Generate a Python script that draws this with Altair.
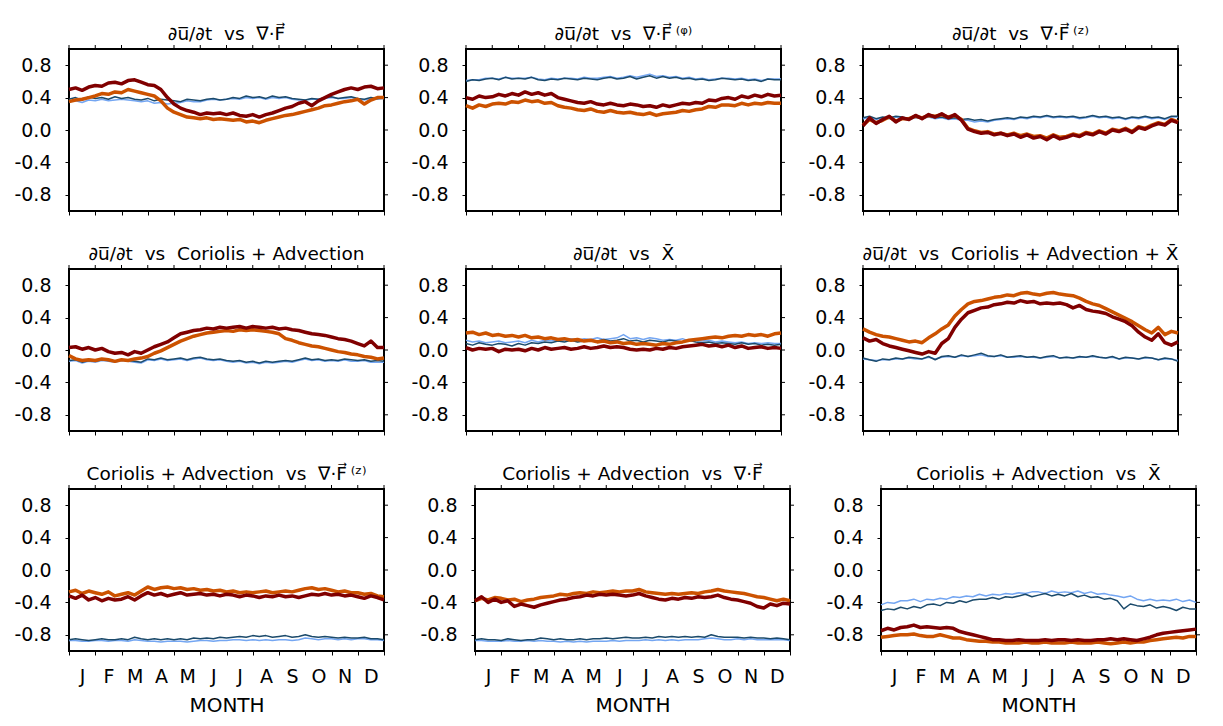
import altair as alt
import pandas as pd

FONT = "DejaVu Sans"
MONTH_LETTERS = ["J", "F", "M", "A", "M", "J", "J", "A", "S", "O", "N", "D"]
MONTH_EDGES = list(range(13))
Y_TICKS = [-0.8, -0.4, 0.0, 0.4, 0.8]
STEP = 0.25  # months between samples

TITLES = [
    "\u2202u\u0305/\u2202t\u00a0\u00a0vs\u00a0\u00a0\u2207\u00b7F\u20d7",
    "\u2202u\u0305/\u2202t\u00a0\u00a0vs\u00a0\u00a0\u2207\u00b7F\u20d7\u2009\u207d\u1d60\u207e",
    "\u2202u\u0305/\u2202t\u00a0\u00a0vs\u00a0\u00a0\u2207\u00b7F\u20d7\u2009\u207d\u1dbb\u207e",
    "\u2202u\u0305/\u2202t\u00a0\u00a0vs\u00a0\u00a0Coriolis + Advection",
    "\u2202u\u0305/\u2202t\u00a0\u00a0vs\u00a0\u00a0X\u0304",
    "\u2202u\u0305/\u2202t\u00a0\u00a0vs\u00a0\u00a0Coriolis + Advection + X\u0304",
    "Coriolis + Advection\u00a0\u00a0vs\u00a0\u00a0\u2207\u00b7F\u20d7\u2009\u207d\u1dbb\u207e",
    "Coriolis + Advection\u00a0\u00a0vs\u00a0\u00a0\u2207\u00b7F\u20d7",
    "Coriolis + Advection\u00a0\u00a0vs\u00a0\u00a0X\u0304",
]

# ---------------- panel 1 ----------------
p1_light = [0.35, 0.36, 0.34, 0.37, 0.36, 0.38, 0.36, 0.37, 0.38, 0.37, 0.36, 0.35,
            0.36, 0.33, 0.34, 0.32, 0.33, 0.34, 0.36, 0.35, 0.35, 0.37, 0.38, 0.37,
            0.38, 0.39, 0.38, 0.40, 0.39, 0.40, 0.38, 0.40, 0.39, 0.40, 0.38, 0.37,
            0.37, 0.38, 0.38, 0.39, 0.40, 0.39, 0.39, 0.40, 0.38, 0.37, 0.39, 0.38, 0.39]
p1_dark = [0.38, 0.40, 0.37, 0.41, 0.39, 0.40, 0.38, 0.41, 0.39, 0.40, 0.38, 0.37,
           0.39, 0.36, 0.38, 0.37, 0.36, 0.35, 0.38, 0.37, 0.36, 0.38, 0.39, 0.37,
           0.38, 0.40, 0.39, 0.42, 0.40, 0.41, 0.39, 0.42, 0.40, 0.41, 0.39, 0.38,
           0.37, 0.39, 0.38, 0.40, 0.41, 0.39, 0.40, 0.41, 0.39, 0.38, 0.40, 0.39, 0.40]
p1_orange = [0.35, 0.37, 0.38, 0.40, 0.42, 0.45, 0.44, 0.47, 0.46, 0.50, 0.48, 0.46,
             0.44, 0.42, 0.36, 0.27, 0.22, 0.19, 0.16, 0.15, 0.14, 0.15, 0.13, 0.14,
             0.13, 0.12, 0.13, 0.10, 0.11, 0.09, 0.12, 0.14, 0.16, 0.18, 0.19, 0.21,
             0.23, 0.25, 0.27, 0.30, 0.31, 0.33, 0.35, 0.36, 0.38, 0.32, 0.37, 0.40, 0.40]
p1_red = [0.50, 0.52, 0.49, 0.53, 0.55, 0.54, 0.58, 0.59, 0.57, 0.61, 0.62, 0.59,
          0.56, 0.55, 0.50, 0.40, 0.32, 0.27, 0.24, 0.22, 0.19, 0.21, 0.20, 0.21,
          0.19, 0.21, 0.18, 0.17, 0.19, 0.16, 0.19, 0.21, 0.24, 0.27, 0.29, 0.33,
          0.35, 0.30, 0.36, 0.40, 0.44, 0.47, 0.50, 0.52, 0.50, 0.53, 0.54, 0.51, 0.52]

# ---------------- panel 2 ----------------
p2_light = [0.61, 0.62, 0.62, 0.64, 0.64, 0.63, 0.65, 0.64, 0.64, 0.64, 0.65, 0.63,
            0.62, 0.64, 0.63, 0.64, 0.64, 0.63, 0.65, 0.64, 0.64, 0.65, 0.66, 0.64,
            0.65, 0.67, 0.65, 0.67, 0.69, 0.66, 0.67, 0.65, 0.66, 0.64, 0.65, 0.63,
            0.64, 0.62, 0.63, 0.64, 0.64, 0.63, 0.64, 0.62, 0.63, 0.61, 0.63, 0.63, 0.63]
p2_dark = [0.60, 0.62, 0.61, 0.63, 0.64, 0.62, 0.65, 0.63, 0.64, 0.63, 0.65, 0.62,
           0.61, 0.63, 0.62, 0.64, 0.63, 0.62, 0.64, 0.63, 0.62, 0.64, 0.65, 0.63,
           0.64, 0.66, 0.63, 0.65, 0.67, 0.64, 0.66, 0.64, 0.65, 0.63, 0.64, 0.62,
           0.63, 0.61, 0.62, 0.64, 0.63, 0.62, 0.63, 0.61, 0.62, 0.60, 0.63, 0.62, 0.62]
p2_orange = [0.30, 0.27, 0.31, 0.29, 0.32, 0.33, 0.32, 0.35, 0.34, 0.37, 0.35, 0.36,
             0.33, 0.34, 0.30, 0.28, 0.27, 0.25, 0.24, 0.26, 0.23, 0.22, 0.24, 0.22,
             0.21, 0.22, 0.20, 0.19, 0.21, 0.18, 0.20, 0.21, 0.22, 0.24, 0.23, 0.25,
             0.26, 0.29, 0.28, 0.31, 0.31, 0.30, 0.33, 0.31, 0.33, 0.32, 0.34, 0.33, 0.33]
p2_red = [0.40, 0.38, 0.42, 0.40, 0.41, 0.44, 0.42, 0.45, 0.43, 0.47, 0.44, 0.46,
          0.43, 0.45, 0.40, 0.38, 0.36, 0.34, 0.33, 0.35, 0.32, 0.31, 0.33, 0.31,
          0.30, 0.32, 0.31, 0.29, 0.30, 0.28, 0.31, 0.29, 0.31, 0.33, 0.32, 0.34,
          0.33, 0.37, 0.36, 0.39, 0.40, 0.38, 0.42, 0.40, 0.43, 0.41, 0.44, 0.42, 0.43]

# ---------------- panel 3 ----------------
p3_light = [0.14, 0.15, 0.13, 0.15, 0.14, 0.16, 0.15, 0.13, 0.15, 0.14, 0.16, 0.14,
            0.15, 0.13, 0.14, 0.12, 0.12, 0.10, 0.11, 0.10, 0.12, 0.13, 0.14, 0.13,
            0.15, 0.14, 0.16, 0.15, 0.17, 0.15, 0.16, 0.15, 0.16, 0.14, 0.15, 0.17,
            0.15, 0.16, 0.14, 0.15, 0.13, 0.15, 0.14, 0.16, 0.14, 0.15, 0.13, 0.16, 0.16]
p3_dark = [0.15, 0.17, 0.14, 0.16, 0.15, 0.17, 0.16, 0.14, 0.16, 0.15, 0.17, 0.15,
           0.16, 0.14, 0.15, 0.13, 0.14, 0.12, 0.13, 0.11, 0.13, 0.14, 0.15, 0.14,
           0.16, 0.15, 0.17, 0.16, 0.18, 0.16, 0.17, 0.16, 0.17, 0.15, 0.16, 0.18,
           0.16, 0.17, 0.15, 0.16, 0.14, 0.16, 0.15, 0.17, 0.15, 0.16, 0.14, 0.17, 0.17]
p3_orange = [0.06, 0.13, 0.09, 0.12, 0.16, 0.11, 0.14, 0.14, 0.17, 0.15, 0.18, 0.17,
             0.19, 0.16, 0.18, 0.13, 0.02, -0.01, -0.03, -0.02, -0.05, -0.04, -0.06, -0.04,
             -0.07, -0.05, -0.08, -0.07, -0.10, -0.06, -0.09, -0.08, -0.05, -0.07, -0.03, -0.05,
             -0.01, -0.04, 0.01, -0.01, 0.02, -0.02, 0.04, 0.02, 0.06, 0.09, 0.07, 0.13, 0.10]
p3_red = [0.05, 0.15, 0.08, 0.13, 0.17, 0.10, 0.15, 0.13, 0.18, 0.14, 0.19, 0.16,
          0.20, 0.15, 0.19, 0.12, 0.01, -0.02, -0.04, -0.03, -0.06, -0.04, -0.07, -0.05,
          -0.09, -0.06, -0.10, -0.08, -0.12, -0.07, -0.11, -0.09, -0.06, -0.08, -0.04, -0.06,
          -0.02, -0.05, 0.00, -0.02, 0.01, -0.03, 0.03, 0.01, 0.05, 0.08, 0.06, 0.12, 0.09]

# ---------------- panel 4 ----------------
p4_light = [-0.14, -0.13, -0.16, -0.14, -0.15, -0.13, -0.14, -0.15, -0.13, -0.14, -0.15, -0.16,
            -0.12, -0.13, -0.11, -0.13, -0.12, -0.11, -0.13, -0.11, -0.10, -0.12, -0.13, -0.12,
            -0.14, -0.15, -0.14, -0.16, -0.15, -0.17, -0.15, -0.16, -0.15, -0.14, -0.15, -0.13,
            -0.11, -0.13, -0.12, -0.14, -0.13, -0.14, -0.12, -0.14, -0.14, -0.13, -0.15, -0.15, -0.15]
p4_dark = [-0.13, -0.12, -0.15, -0.13, -0.14, -0.12, -0.13, -0.14, -0.12, -0.13, -0.14, -0.15,
           -0.11, -0.12, -0.10, -0.12, -0.11, -0.10, -0.12, -0.10, -0.09, -0.11, -0.12, -0.11,
           -0.13, -0.14, -0.13, -0.15, -0.14, -0.16, -0.14, -0.15, -0.14, -0.13, -0.14, -0.12,
           -0.10, -0.12, -0.11, -0.13, -0.12, -0.13, -0.11, -0.12, -0.13, -0.12, -0.14, -0.13, -0.14]
p4_orange = [-0.07, -0.11, -0.13, -0.12, -0.13, -0.11, -0.12, -0.14, -0.12, -0.13, -0.11, -0.10,
             -0.08, -0.04, -0.01, 0.03, 0.07, 0.11, 0.14, 0.17, 0.19, 0.21, 0.22, 0.23,
             0.24, 0.23, 0.25, 0.24, 0.25, 0.24, 0.23, 0.22, 0.20, 0.14, 0.12, 0.09,
             0.07, 0.05, 0.04, 0.02, 0.00, -0.02, -0.03, -0.05, -0.06, -0.08, -0.09, -0.11, -0.10]
p4_red = [0.03, 0.04, 0.01, 0.03, 0.00, 0.02, -0.02, -0.04, -0.03, -0.06, -0.02, -0.04,
          0.00, 0.04, 0.07, 0.10, 0.15, 0.20, 0.22, 0.24, 0.25, 0.27, 0.26, 0.28,
          0.27, 0.28, 0.29, 0.27, 0.29, 0.28, 0.27, 0.28, 0.26, 0.27, 0.25, 0.24,
          0.22, 0.20, 0.19, 0.18, 0.16, 0.14, 0.13, 0.11, 0.08, 0.05, 0.11, 0.03, 0.03]

# ---------------- panel 5 ----------------
p5_light = [0.12, 0.10, 0.11, 0.09, 0.10, 0.11, 0.09, 0.10, 0.11, 0.09, 0.12, 0.10,
            0.12, 0.11, 0.13, 0.12, 0.14, 0.12, 0.14, 0.13, 0.15, 0.13, 0.14, 0.15,
            0.19, 0.14, 0.15, 0.13, 0.15, 0.14, 0.12, 0.13, 0.12, 0.14, 0.11, 0.12,
            0.11, 0.12, 0.10, 0.11, 0.10, 0.09, 0.10, 0.08, 0.09, 0.08, 0.09, 0.08, 0.08]
p5_dark = [0.08, 0.06, 0.09, 0.07, 0.06, 0.08, 0.07, 0.05, 0.08, 0.06, 0.09, 0.08,
           0.10, 0.09, 0.11, 0.10, 0.12, 0.10, 0.11, 0.12, 0.11, 0.13, 0.11, 0.12,
           0.14, 0.11, 0.12, 0.10, 0.12, 0.11, 0.10, 0.12, 0.11, 0.10, 0.12, 0.10,
           0.09, 0.10, 0.08, 0.09, 0.08, 0.07, 0.09, 0.07, 0.08, 0.06, 0.07, 0.06, 0.07]
p5_orange = [0.21, 0.22, 0.19, 0.21, 0.18, 0.19, 0.17, 0.18, 0.16, 0.18, 0.15, 0.16,
             0.14, 0.15, 0.13, 0.14, 0.12, 0.13, 0.11, 0.12, 0.10, 0.11, 0.09, 0.10,
             0.08, 0.09, 0.07, 0.08, 0.07, 0.06, 0.08, 0.07, 0.09, 0.10, 0.12, 0.13,
             0.14, 0.15, 0.16, 0.15, 0.17, 0.18, 0.17, 0.19, 0.18, 0.19, 0.17, 0.20, 0.21]
p5_red = [0.03, 0.00, 0.02, 0.01, 0.02, -0.02, 0.01, 0.00, 0.01, -0.01, 0.02, 0.00,
          0.03, 0.01, 0.02, 0.03, 0.01, 0.02, 0.04, 0.02, 0.03, 0.05, 0.03, 0.04,
          0.03, 0.01, 0.00, 0.01, 0.00, 0.02, 0.01, 0.03, 0.02, 0.04, 0.05, 0.06,
          0.07, 0.05, 0.06, 0.04, 0.06, 0.03, 0.05, 0.02, 0.03, 0.04, 0.02, 0.03, 0.02]

# ---------------- panel 6 ----------------
p6_light = [-0.11, -0.12, -0.13, -0.12, -0.12, -0.11, -0.11, -0.10, -0.11, -0.11, -0.09, -0.11,
            -0.09, -0.08, -0.09, -0.07, -0.08, -0.07, -0.06, -0.08, -0.08, -0.07, -0.09, -0.09,
            -0.08, -0.09, -0.09, -0.10, -0.09, -0.08, -0.10, -0.09, -0.10, -0.09, -0.09, -0.08,
            -0.09, -0.10, -0.09, -0.11, -0.10, -0.10, -0.11, -0.10, -0.10, -0.12, -0.11, -0.11, -0.13]
p6_dark = [-0.10, -0.12, -0.14, -0.11, -0.12, -0.10, -0.11, -0.09, -0.10, -0.11, -0.08, -0.12,
           -0.08, -0.07, -0.09, -0.06, -0.08, -0.06, -0.04, -0.07, -0.08, -0.06, -0.09, -0.08,
           -0.07, -0.09, -0.08, -0.10, -0.08, -0.07, -0.10, -0.09, -0.10, -0.08, -0.09, -0.07,
           -0.09, -0.10, -0.08, -0.11, -0.09, -0.10, -0.11, -0.09, -0.10, -0.12, -0.10, -0.11, -0.14]
p6_orange = [0.26, 0.22, 0.19, 0.17, 0.16, 0.14, 0.12, 0.10, 0.11, 0.09, 0.15, 0.20,
             0.26, 0.31, 0.42, 0.50, 0.57, 0.60, 0.61, 0.63, 0.65, 0.66, 0.68, 0.67,
             0.70, 0.71, 0.69, 0.68, 0.70, 0.71, 0.69, 0.68, 0.67, 0.64, 0.60, 0.57,
             0.55, 0.51, 0.47, 0.43, 0.39, 0.35, 0.30, 0.25, 0.21, 0.28, 0.19, 0.23, 0.21]
p6_red = [0.15, 0.11, 0.13, 0.08, 0.05, 0.03, 0.01, -0.01, -0.03, -0.05, -0.02, -0.04,
          0.08, 0.14, 0.28, 0.38, 0.46, 0.49, 0.52, 0.53, 0.56, 0.57, 0.59, 0.58,
          0.61, 0.59, 0.60, 0.57, 0.58, 0.57, 0.58, 0.56, 0.52, 0.55, 0.50, 0.48,
          0.47, 0.45, 0.41, 0.38, 0.35, 0.30, 0.22, 0.16, 0.12, 0.20, 0.09, 0.06, 0.10]

# ---------------- panel 7 ----------------
p7_light = [-0.87, -0.87, -0.88, -0.88, -0.87, -0.87, -0.88, -0.87, -0.87, -0.88, -0.86, -0.87,
            -0.88, -0.88, -0.89, -0.88, -0.88, -0.88, -0.89, -0.88, -0.87, -0.87, -0.88, -0.87,
            -0.87, -0.86, -0.86, -0.87, -0.86, -0.87, -0.86, -0.87, -0.86, -0.86, -0.87, -0.86,
            -0.84, -0.85, -0.86, -0.85, -0.85, -0.86, -0.85, -0.86, -0.85, -0.85, -0.86, -0.86, -0.87]
p7_dark = [-0.86, -0.85, -0.86, -0.87, -0.86, -0.85, -0.86, -0.86, -0.85, -0.86, -0.83, -0.85,
           -0.86, -0.85, -0.86, -0.85, -0.86, -0.85, -0.86, -0.84, -0.85, -0.84, -0.85, -0.83,
           -0.84, -0.83, -0.82, -0.83, -0.81, -0.82, -0.81, -0.83, -0.82, -0.81, -0.83, -0.82,
           -0.80, -0.82, -0.83, -0.82, -0.83, -0.84, -0.83, -0.84, -0.84, -0.83, -0.85, -0.85, -0.86]
p7_orange = [-0.27, -0.25, -0.29, -0.26, -0.28, -0.30, -0.27, -0.32, -0.30, -0.28, -0.31, -0.26,
             -0.21, -0.24, -0.22, -0.21, -0.23, -0.22, -0.24, -0.23, -0.25, -0.24, -0.26, -0.25,
             -0.27, -0.26, -0.28, -0.27, -0.28, -0.27, -0.26, -0.28, -0.27, -0.26, -0.27, -0.25,
             -0.23, -0.22, -0.24, -0.23, -0.25, -0.27, -0.26, -0.28, -0.28, -0.30, -0.29, -0.32, -0.33]
p7_red = [-0.32, -0.35, -0.31, -0.37, -0.34, -0.38, -0.35, -0.37, -0.36, -0.33, -0.37, -0.32,
          -0.28, -0.31, -0.29, -0.32, -0.30, -0.28, -0.31, -0.30, -0.29, -0.31, -0.30, -0.32,
          -0.30, -0.31, -0.33, -0.31, -0.32, -0.34, -0.32, -0.33, -0.31, -0.33, -0.32, -0.34,
          -0.32, -0.30, -0.31, -0.29, -0.31, -0.30, -0.32, -0.31, -0.33, -0.35, -0.32, -0.34, -0.37]

# ---------------- panel 8 ----------------
p8_light = [-0.87, -0.87, -0.88, -0.88, -0.88, -0.87, -0.88, -0.88, -0.87, -0.88, -0.87, -0.88,
            -0.88, -0.89, -0.88, -0.89, -0.88, -0.89, -0.88, -0.88, -0.88, -0.87, -0.88, -0.87,
            -0.87, -0.87, -0.86, -0.87, -0.86, -0.87, -0.86, -0.87, -0.86, -0.86, -0.86, -0.85,
            -0.84, -0.85, -0.86, -0.86, -0.85, -0.86, -0.85, -0.86, -0.86, -0.86, -0.86, -0.86, -0.87]
p8_dark = [-0.86, -0.85, -0.86, -0.86, -0.87, -0.85, -0.86, -0.87, -0.86, -0.86, -0.84, -0.85,
           -0.86, -0.85, -0.86, -0.86, -0.85, -0.86, -0.85, -0.85, -0.84, -0.85, -0.84, -0.83,
           -0.84, -0.84, -0.83, -0.84, -0.82, -0.83, -0.82, -0.83, -0.82, -0.83, -0.82, -0.83,
           -0.80, -0.82, -0.83, -0.83, -0.83, -0.84, -0.83, -0.84, -0.84, -0.85, -0.84, -0.85, -0.86]
p8_orange = [-0.38, -0.35, -0.37, -0.34, -0.35, -0.37, -0.36, -0.39, -0.37, -0.36, -0.34, -0.33,
             -0.32, -0.30, -0.31, -0.29, -0.28, -0.29, -0.27, -0.28, -0.27, -0.26, -0.27, -0.26,
             -0.26, -0.24, -0.27, -0.28, -0.29, -0.30, -0.29, -0.30, -0.29, -0.28, -0.29, -0.27,
             -0.26, -0.24, -0.26, -0.27, -0.28, -0.29, -0.31, -0.33, -0.34, -0.36, -0.38, -0.36, -0.38]
p8_red = [-0.38, -0.33, -0.40, -0.36, -0.40, -0.38, -0.45, -0.42, -0.44, -0.46, -0.43, -0.41,
          -0.39, -0.37, -0.36, -0.34, -0.33, -0.31, -0.32, -0.30, -0.31, -0.30, -0.31, -0.32,
          -0.31, -0.29, -0.32, -0.34, -0.36, -0.37, -0.35, -0.36, -0.34, -0.35, -0.33, -0.34,
          -0.33, -0.31, -0.34, -0.36, -0.37, -0.39, -0.41, -0.45, -0.47, -0.42, -0.44, -0.41, -0.42]

# ---------------- panel 9 ----------------
p9_light = [-0.43, -0.40, -0.41, -0.38, -0.38, -0.36, -0.39, -0.36, -0.37, -0.35, -0.36, -0.33,
            -0.34, -0.32, -0.33, -0.30, -0.32, -0.30, -0.31, -0.29, -0.30, -0.28, -0.29, -0.27,
            -0.27, -0.29, -0.26, -0.28, -0.27, -0.28, -0.26, -0.29, -0.27, -0.30, -0.29, -0.31,
            -0.32, -0.34, -0.32, -0.36, -0.38, -0.36, -0.38, -0.37, -0.38, -0.36, -0.39, -0.37, -0.40]
p9_dark = [-0.50, -0.48, -0.49, -0.46, -0.48, -0.45, -0.47, -0.43, -0.42, -0.44, -0.40, -0.41,
           -0.38, -0.40, -0.37, -0.36, -0.36, -0.34, -0.36, -0.33, -0.34, -0.32, -0.30, -0.33,
           -0.31, -0.29, -0.32, -0.30, -0.32, -0.29, -0.33, -0.31, -0.34, -0.33, -0.36, -0.35,
           -0.38, -0.48, -0.42, -0.44, -0.45, -0.43, -0.47, -0.45, -0.47, -0.50, -0.46, -0.48, -0.48]
p9_orange = [-0.83, -0.82, -0.81, -0.80, -0.80, -0.79, -0.81, -0.82, -0.82, -0.80, -0.82, -0.84,
             -0.84, -0.86, -0.87, -0.88, -0.88, -0.89, -0.89, -0.90, -0.90, -0.90, -0.89, -0.90,
             -0.90, -0.89, -0.90, -0.90, -0.90, -0.89, -0.90, -0.90, -0.90, -0.89, -0.90, -0.91,
             -0.90, -0.89, -0.90, -0.89, -0.89, -0.87, -0.86, -0.85, -0.84, -0.83, -0.84, -0.82, -0.82]
p9_red = [-0.75, -0.72, -0.74, -0.71, -0.70, -0.68, -0.71, -0.70, -0.71, -0.72, -0.71, -0.72,
          -0.76, -0.78, -0.80, -0.82, -0.84, -0.86, -0.86, -0.87, -0.87, -0.86, -0.87, -0.87,
          -0.87, -0.86, -0.87, -0.86, -0.86, -0.87, -0.86, -0.87, -0.87, -0.86, -0.86, -0.85,
          -0.86, -0.85, -0.86, -0.87, -0.85, -0.83, -0.80, -0.78, -0.77, -0.76, -0.75, -0.74, -0.73]

PANEL_DATA = [
    (p1_light, p1_dark, p1_orange, p1_red),
    (p2_light, p2_dark, p2_orange, p2_red),
    (p3_light, p3_dark, p3_orange, p3_red),
    (p4_light, p4_dark, p4_orange, p4_red),
    (p5_light, p5_dark, p5_orange, p5_red),
    (p6_light, p6_dark, p6_orange, p6_red),
    (p7_light, p7_dark, p7_orange, p7_red),
    (p8_light, p8_dark, p8_orange, p8_red),
    (p9_light, p9_dark, p9_orange, p9_red),
]

C_LIGHT, C_DARK, C_ORANGE, C_RED = "#74a6f2", "#1b4a6b", "#cc5200", "#800000"
THIN, THICK = 1.5, 3.5
W, H = 315, 162

XSCALE = alt.Scale(domain=[0, 12], nice=False, zero=False)
YSCALE = alt.Scale(domain=[-1, 1], nice=False, zero=False)

label_array = "[" + ",".join("'%s'" % m for m in MONTH_LETTERS) + ",'']"

XAXIS_TOP = alt.Axis(values=MONTH_EDGES, labels=False, ticks=True, tickSize=4, domain=False,
                     grid=False, title=None, minExtent=4, maxExtent=4)
XAXIS_BOTTOM = alt.Axis(values=MONTH_EDGES, labelExpr=label_array + "[datum.value]",
                        labelOffset=W / 24, labelPadding=12, labelFontSize=19,
                        labelOverlap=False, labelFlush=False, labelBound=False,
                        tickSize=4, domain=False, grid=False, title="MONTH",
                        titleFontSize=20, titleFontWeight="normal", titlePadding=9)
YAXIS = alt.Axis(values=Y_TICKS, labelExpr="replace(format(datum.value, '.1f'), '\u2212', '-')",
                 tickSize=4, labelPadding=14, labelFontSize=19, domain=False, grid=False,
                 title=None, minExtent=55, maxExtent=55)


def make_panel(title, series, bottom):
    xaxis = XAXIS_BOTTOM if bottom else XAXIS_TOP
    layers = []
    for vals, color, width in zip(series, [C_LIGHT, C_DARK, C_ORANGE, C_RED],
                                  [THIN, THIN, THICK, THICK]):
        df = pd.DataFrame({"month": [i * STEP for i in range(len(vals))], "value": vals})
        layers.append(
            alt.Chart(df).mark_line(color=color, strokeWidth=width, strokeJoin="round").encode(
                x=alt.X("month:Q", scale=XSCALE, axis=xaxis),
                y=alt.Y("value:Q", scale=YSCALE, axis=YAXIS),
            )
        )
    right_ticks = alt.Chart(pd.DataFrame({"value": Y_TICKS})).mark_rule(
        color="black", strokeWidth=1).encode(
        y=alt.Y("value:Q", scale=YSCALE, axis=YAXIS),
        x=alt.value(W + 1), x2=alt.value(W + 4))
    top_ticks = alt.Chart(pd.DataFrame({"month": MONTH_EDGES})).mark_rule(
        color="black", strokeWidth=1).encode(
        x=alt.X("month:Q", scale=XSCALE, axis=xaxis),
        y=alt.value(-4), y2=alt.value(-1))
    return alt.layer(*layers, right_ticks, top_ticks).properties(
        width=W, height=H,
        title=alt.TitleParams(title, fontSize=18.5, font=FONT, fontWeight="normal",
                              anchor="middle", offset=1, color="black"),
    )


rows = []
for r in range(3):
    panels = [make_panel(TITLES[3 * r + c], PANEL_DATA[3 * r + c], r == 2) for c in range(3)]
    rows.append(alt.hconcat(*panels, spacing=19))

chart = alt.vconcat(*rows, spacing=27).properties(
    padding={"left": 4, "top": 16, "right": 0, "bottom": 0}
).configure_view(stroke="black", strokeWidth=2).configure_axis(
    labelFont=FONT, titleFont=FONT, labelColor="black", titleColor="black",
    tickColor="black", tickWidth=1
).configure_title(font=FONT, color="black")

chart.save("out.html", embed_options={"renderer": "svg", "actions": False})
